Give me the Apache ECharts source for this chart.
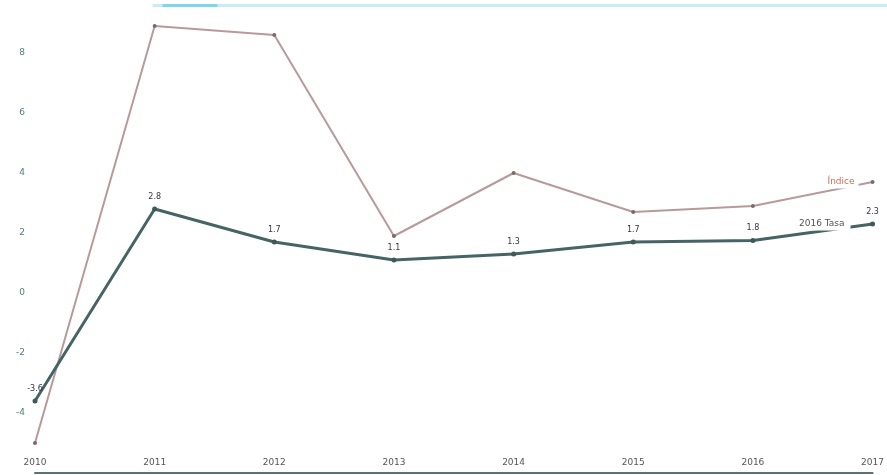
<!DOCTYPE html>
<html>
<head>
<meta charset="utf-8">
<script src="https://cdn.jsdelivr.net/npm/echarts@6/dist/echarts.min.js"></script>
<style>html,body{margin:0;padding:0;background:#fff;}#c{width:887px;height:475px;}</style>
</head>
<body>
<div id="c"></div>
<script>
const categories = ['2010', '2011', '2012', '2013', '2014', '2015', '2016', '2017'];
const seriesNames = ['Índice', '2016 Tasa'];
const redValues = [-5.0, 8.9, 8.6, 1.9, 4.0, 2.7, 2.9, 3.7];
const darkValues = [-3.6, 2.8, 1.7, 1.1, 1.3, 1.7, 1.75, 2.3];
const yTicks = { min: -6, max: 9.6, interval: 2 };

const chart = echarts.init(document.getElementById('c'));
chart.setOption({
  animation: false,
  backgroundColor: '#ffffff',
  graphic: [{
    type: 'line', left: 150, top: 3,
    shape: { x1: 0, y1: 0, x2: 737, y2: 0 },
    style: { stroke: '#c9ecf5', lineWidth: 3 }
  }, {
    type: 'line', left: 160, top: 3,
    shape: { x1: 0, y1: 0, x2: 55, y2: 0 },
    style: { stroke: '#7fd6ea', lineWidth: 3 }
  }],
  grid: { left: 35, right: 12, top: 5, bottom: 2, containLabel: false },
  xAxis: {
    type: 'category',
    data: categories,
    boundaryGap: false,
    axisLine: { show: true, onZero: false, lineStyle: { color: '#5f7070', width: 2 } },
    axisTick: { show: false },
    axisLabel: { inside: true, color: '#555', fontSize: 9, fontFamily: 'DejaVu Sans', margin: 6 },
    splitLine: { show: false }
  },
  yAxis: {
    type: 'value',
    min: yTicks.min, max: yTicks.max, interval: yTicks.interval,
    axisLine: { show: false },
    axisTick: { show: false },
    splitLine: { show: false },
    axisLabel: { color: '#4f7d7d', fontSize: 9, fontFamily: 'DejaVu Sans', margin: 10, showMinLabel: false, showMaxLabel: false }
  },
  series: [{
    name: seriesNames[0],
    type: 'line',
    data: redValues,
    symbol: 'circle', symbolSize: 4,
    itemStyle: { color: '#7a6a6a' },
    lineStyle: { color: '#b79a9a', width: 2 },
    z: 2,
    markPoint: {
      symbol: 'circle', symbolSize: 0,
      data: [{ coord: [categories.length - 1, redValues[redValues.length - 1]] }],
      label: {
        show: true, formatter: seriesNames[0], position: 'left', distance: 14,
        color: '#c0705a', fontSize: 9, fontFamily: 'DejaVu Sans',
        backgroundColor: '#fff', padding: [2, 4]
      }
    }
  }, {
    name: seriesNames[1],
    type: 'line',
    data: darkValues,
    symbol: 'circle', symbolSize: 5,
    itemStyle: { color: '#3f5858' },
    lineStyle: { color: '#466464', width: 3 },
    z: 3,
    label: {
      show: true, position: 'top', distance: 6,
      color: '#334', fontSize: 8, fontFamily: 'DejaVu Sans',
      formatter: p => (Math.round(p.value * 10) / 10).toString()
    },
    markPoint: {
      symbol: 'circle', symbolSize: 0,
      data: [{ coord: [categories.length - 1, darkValues[darkValues.length - 1]] }],
      label: {
        show: true, formatter: seriesNames[1], position: 'left', distance: 22,
        color: '#555', fontSize: 9, fontFamily: 'DejaVu Sans',
        backgroundColor: '#fff', padding: [2, 6]
      }
    }
  }]
});
</script>
</body>
</html>
